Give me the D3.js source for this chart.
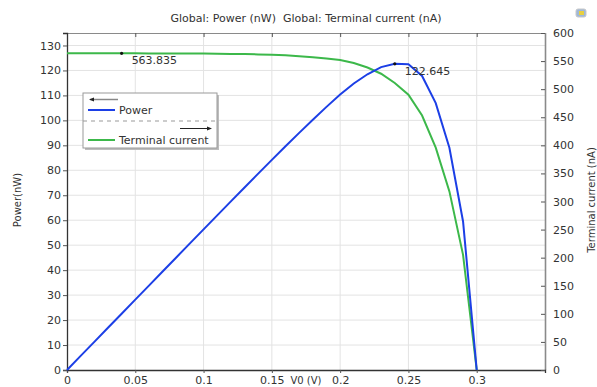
<!DOCTYPE html>
<html><head><meta charset="utf-8">
<script src="https://cdn.jsdelivr.net/npm/d3@7"></script>
<style>body{margin:0;background:#fff}svg{display:block;font-family:"DejaVu Sans",sans-serif}</style>
</head><body>
<script>
const voltage = [0,0.01,0.02,0.03,0.04,0.05,0.06,0.07,0.08,0.09,0.10,0.11,0.12,0.13,0.14,0.15,0.16,0.17,0.18,0.19,0.20,0.21,0.22,0.23,0.24,0.25,0.26,0.27,0.28,0.29,0.30];
const power = [0,5.64,11.28,16.91,22.55,28.19,33.82,39.46,45.09,50.72,56.33,61.94,67.54,73.11,78.67,84.18,89.63,95.0,100.26,105.41,110.36,114.77,118.47,121.33,122.645,122.5,117.8,106.9,89.0,59.5,0];
const current = [563.8,563.8,563.8,563.8,563.835,563.8,563.7,563.7,563.6,563.5,563.3,563.1,562.8,562.4,561.9,561.2,560.2,558.8,557.0,554.8,551.8,546.5,538.5,527.5,511.0,490,453,396,318,205,0];
const xTicks = [0,0.05,0.1,0.15,0.2,0.25,0.3];
const yLeftTicks = [0,10,20,30,40,50,60,70,80,90,100,110,120,130];
const yRightTicks = [0,50,100,150,200,250,300,350,400,450,500,550,600];
const titleText = "Global: Power (nW)  Global: Terminal current (nA)";
const legendNames = ["Power","Terminal current"];
const markers = [{v:0.04, val:563.835, axis:"right", label:"563.835"},{v:0.24, val:122.645, axis:"left", label:"122.645"}];

const W=597,H=387;
const L=67,R=545,T=33,B=370;
const svg=d3.select("body").append("svg").attr("width",W).attr("height",H);
const x=d3.scaleLinear().domain([0,0.35]).range([L,R]);
const yL=d3.scaleLinear().domain([0,135]).range([B,T]);
const yR=d3.scaleLinear().domain([0,600]).range([B,T]);
const textCol="#333";

// gridlines
const g=svg.append("g");
g.selectAll(".vg").data(xTicks.filter(d=>d>0)).enter().append("line")
 .attr("x1",d=>x(d)).attr("x2",d=>x(d)).attr("y1",T).attr("y2",B)
 .attr("stroke","#e3e3e3").attr("stroke-width",1);
g.selectAll(".hg").data(yLeftTicks.filter(d=>d>0)).enter().append("line")
 .attr("x1",L).attr("x2",R).attr("y1",d=>yL(d)).attr("y2",d=>yL(d))
 .attr("stroke","#e3e3e3").attr("stroke-width",1);

// frame top & right
svg.append("line").attr("x1",L).attr("x2",R).attr("y1",T+0.5).attr("y2",T+0.5).attr("stroke","#8a8a8a");
svg.append("line").attr("x1",R+0.5).attr("x2",R+0.5).attr("y1",T).attr("y2",B).attr("stroke","#8a8a8a").attr("stroke-width",1.6);

// axes
const bx=svg.append("g").attr("transform",`translate(0,${B})`)
 .call(d3.axisBottom(x).tickValues(xTicks).tickFormat(d=>String(d)).tickSize(3).tickPadding(3));
const tx=svg.append("g").attr("transform",`translate(0,${T})`)
 .call(d3.axisTop(x).tickValues(xTicks).tickFormat("").tickSize(-4));
const ly=svg.append("g").attr("transform",`translate(${L},0)`)
 .call(d3.axisLeft(yL).tickValues(yLeftTicks).tickFormat(d=>String(d)).tickSize(4).tickPadding(2));
const ry=svg.append("g").attr("transform",`translate(${R},0)`)
 .call(d3.axisRight(yR).tickValues(yRightTicks).tickFormat(d=>String(d)).tickSize(-4).tickPadding(8));
[bx,ly,ry,tx].forEach(a=>{a.selectAll("text").attr("fill",textCol).style("font-size","11px").style("font-family","DejaVu Sans");
 a.selectAll("line").attr("stroke","#555");});
tx.select(".domain").remove();
ry.select(".domain").remove();
bx.select(".domain").attr("stroke","#333").attr("stroke-width",1.3);
ly.select(".domain").attr("stroke","#333").attr("stroke-width",1.3);

// curves
const idx=d3.range(voltage.length);
svg.append("path").datum(idx).attr("fill","none").attr("stroke","#3cb84a").attr("stroke-width",2)
 .attr("d",d3.line().x(i=>x(voltage[i])).y(i=>yR(current[i])));
svg.append("path").datum(idx).attr("fill","none").attr("stroke","#1c3fe6").attr("stroke-width",2)
 .attr("d",d3.line().x(i=>x(voltage[i])).y(i=>yL(power[i])));

// markers
markers.forEach(m=>{
  const px=x(m.v), py=(m.axis==="left"?yL:yR)(m.val);
  svg.append("circle").attr("cx",px).attr("cy",py).attr("r",1.6).attr("fill","#111");
  svg.append("text").attr("x",px+10).attr("y",py+11).text(m.label)
   .attr("fill",textCol).style("font-size","11px");
});

// title
svg.append("text").attr("x",306).attr("y",22).attr("text-anchor","middle").text(titleText)
 .attr("fill",textCol).style("font-size","11px").style("white-space","pre");
// axis labels
svg.append("text").attr("transform","translate(21,200) rotate(-90)").attr("text-anchor","middle")
 .text("Power(nW)").attr("fill",textCol).style("font-size","10px");
svg.append("text").attr("transform","translate(595,200) rotate(-90)").attr("text-anchor","middle")
 .text("Terminal current (nA)").attr("fill",textCol).style("font-size","10px");
svg.append("text").attr("x",306).attr("y",384).attr("text-anchor","middle")
 .text("V0 (V)").attr("fill",textCol).style("font-size","10px");

// icon
svg.append("rect").attr("x",576).attr("y",9).attr("width",10).attr("height",8).attr("rx",2)
 .attr("fill","#9fb8d8").attr("stroke","#c8c8c8");
svg.append("rect").attr("x",579).attr("y",11).attr("width",5).attr("height",4).attr("fill","#e8d040");

// legend
const lg=svg.append("g");
lg.append("rect").attr("x",85).attr("y",95).attr("width",134).attr("height",55).attr("fill","#bdbdbd");
lg.append("rect").attr("x",83).attr("y",93).attr("width",134).attr("height",55).attr("fill","#fff")
 .attr("stroke","#9a9a9a").attr("stroke-width",1);
lg.append("line").attr("x1",90).attr("x2",118).attr("y1",99.5).attr("y2",99.5).attr("stroke","#888").attr("stroke-width",1.5);
lg.append("path").attr("d","M89,99.5 L94,97.5 L94,101.5 Z").attr("fill","#222");
lg.append("line").attr("x1",88).attr("x2",115).attr("y1",110).attr("y2",110).attr("stroke","#1c3fe6").attr("stroke-width",2);
lg.append("text").attr("x",119).attr("y",114).text(legendNames[0]).attr("fill",textCol).style("font-size","11px");
lg.append("line").attr("x1",83).attr("x2",217).attr("y1",121).attr("y2",121).attr("stroke","#999").attr("stroke-dasharray","4,4");
lg.append("line").attr("x1",180).attr("x2",210).attr("y1",128.5).attr("y2",128.5).attr("stroke","#222").attr("stroke-width",1);
lg.append("path").attr("d","M212,128.5 L207,126.5 L207,130.5 Z").attr("fill","#222");
lg.append("line").attr("x1",88).attr("x2",115).attr("y1",140).attr("y2",140).attr("stroke","#3cb84a").attr("stroke-width",2);
lg.append("text").attr("x",119).attr("y",144).text(legendNames[1]).attr("fill",textCol).style("font-size","11px");
</script>
</body></html>
